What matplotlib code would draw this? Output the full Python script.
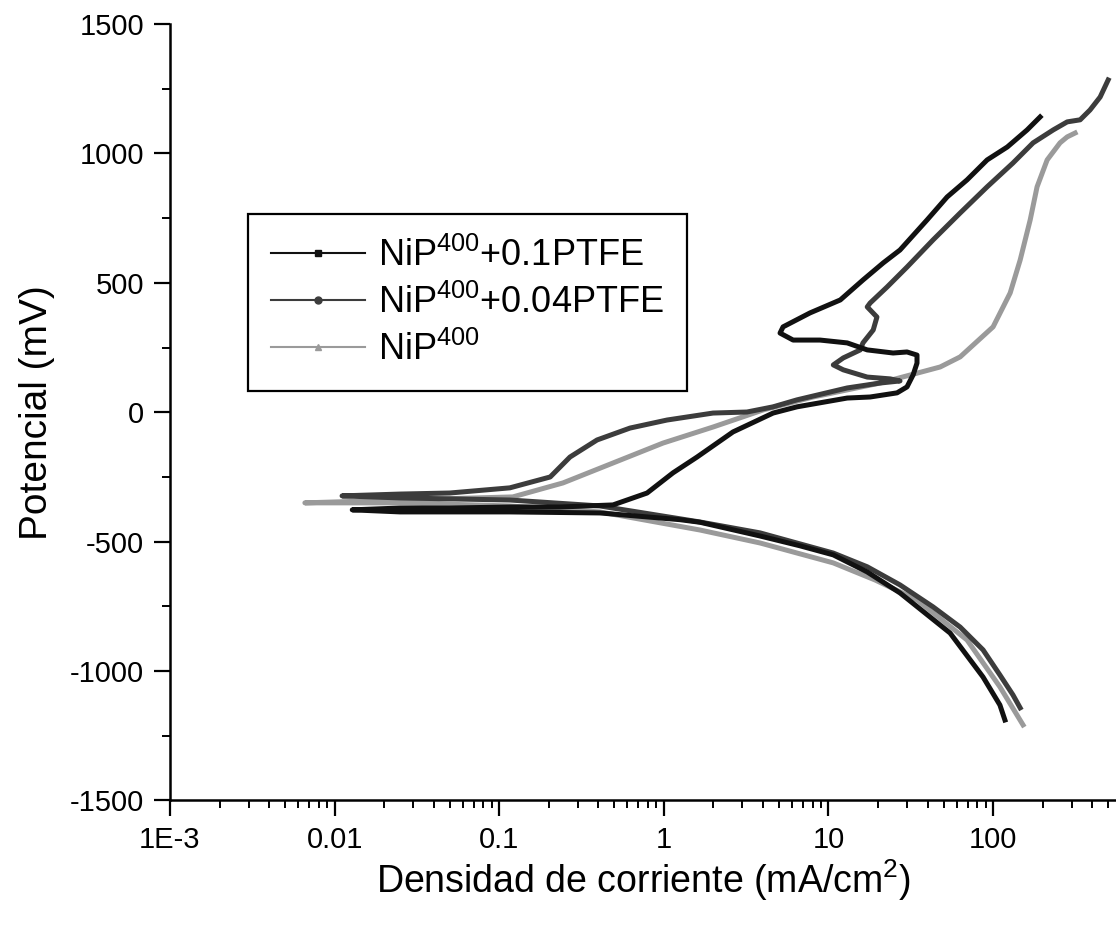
import matplotlib
matplotlib.use('Agg')
import matplotlib.pyplot as plt
from matplotlib.lines import Line2D
from matplotlib.ticker import FixedLocator, FixedFormatter, LogLocator, MultipleLocator, NullFormatter

plt.rcParams['font.family'] = 'Liberation Sans'
plt.rcParams['mathtext.fontset'] = 'custom'
plt.rcParams['mathtext.rm'] = 'Liberation Sans'
plt.rcParams['mathtext.it'] = 'Liberation Sans:italic'
plt.rcParams['mathtext.bf'] = 'Liberation Sans:bold'
plt.rcParams['axes.unicode_minus'] = False

# NiP400 + 0.1PTFE  (current in mA/cm2, potential in mV)
cat_i_01 = [118, 110, 86.9, 54.8, 27.2, 17.2, 10.7, 6.72, 3.84, 1.66, 1.254, 0.409, 0.116, 0.025, 0.0128]
cat_e_01 = [-1189, -1131, -1023, -853, -698, -617, -551, -516, -478, -425, -415, -389, -385, -385, -377]
an_i_01 = [0.0128, 0.025, 0.050, 0.116, 0.234, 0.491, 0.791, 1.137, 1.591, 2.63,
           4.61, 6.44, 13.0, 17.9, 26.1, 30.0, 32.7, 34.5, 34.5, 30.0,
           24.7, 17.2, 13.0, 8.89, 6.10, 5.08, 5.30, 7.73, 11.8, 16.2,
           21.5, 27.2, 39.7, 52.6, 69.5, 92.0, 122, 161, 193]
an_e_01 = [-377, -370, -370, -366, -366, -358, -312, -234, -173, -76,
           -3, 21, 55, 59, 75, 98, 145, 190, 221, 233,
           229, 241, 268, 279, 279, 306, 330, 384, 434, 511,
           577, 627, 743, 832, 898, 975, 1025, 1091, 1141]

# NiP400 + 0.04PTFE
cat_i_004 = [146, 132, 110, 86.9, 63.1, 43.2, 27.2, 17.2, 10.7, 3.84, 1.66, 0.409, 0.116, 0.025, 0.0111]
cat_e_004 = [-1142, -1092, -1015, -918, -830, -752, -667, -597, -544, -466, -424, -362, -339, -331, -323]
an_i_004 = [0.0111, 0.025, 0.050, 0.116, 0.204, 0.269, 0.393, 0.623, 1.045, 1.99,
            3.20, 4.61, 6.44, 13.0, 20.6, 27.2, 23.7, 17.2, 12.3, 10.7,
            12.3, 15.6, 16.2, 18.7, 19.7, 17.2, 17.9, 22.7, 30.0, 43.2,
            63.1, 92.0, 132, 175, 232, 282, 338, 388, 447, 500]
an_e_004 = [-323, -316, -312, -292, -250, -173, -107, -61, -30, -3,
            1, 21, 48, 94, 113, 121, 129, 136, 164, 183,
            210, 241, 268, 318, 368, 407, 422, 484, 561, 666,
            770, 871, 963, 1041, 1091, 1122, 1130, 1168, 1218, 1284]

# NiP400
cat_i_0 = [152, 110, 69.5, 34.5, 19.2, 10.7, 3.84, 1.66, 0.409, 0.116, 0.025, 0.0066]
cat_e_0 = [-1208, -1061, -880, -725, -648, -582, -505, -455, -385, -362, -350, -350]
an_i_0 = [0.0066, 0.025, 0.121, 0.244, 0.491, 0.988, 1.99, 4.01, 8.06, 20.6,
          47.7, 63.1, 100, 127, 146, 168, 185, 213, 255, 282, 315]
an_e_0 = [-350, -339, -327, -273, -196, -119, -57, 9, 59, 113,
          175, 214, 330, 461, 588, 743, 871, 975, 1041, 1064, 1079]

labels = [r'NiP$^{\mathrm{400}}$+0.1PTFE', r'NiP$^{\mathrm{400}}$+0.04PTFE', r'NiP$^{\mathrm{400}}$']
colors = ['#111111', '#3c3c3c', '#9a9a9a']
markers = ['s', 'o', '^']

x_ticks = [1e-3, 1e-2, 1e-1, 1, 10, 100]
x_ticklabels = ['1E-3', '0.01', '0.1', '1', '10', '100']

fig = plt.figure(figsize=(11.16, 9.25), dpi=100)
ax = fig.add_axes([0.1523, 0.1346, 0.8477, 0.8394])

# whole sweep: cathodic branch from the far end to Ecorr, then anodic branch
ax.plot(cat_i_0 + an_i_0, cat_e_0 + an_e_0, color=colors[2], lw=3.6, zorder=2)
ax.plot(cat_i_004 + an_i_004, cat_e_004 + an_e_004, color=colors[1], lw=3.6, zorder=3)
ax.plot(cat_i_01 + an_i_01, cat_e_01 + an_e_01, color=colors[0], lw=3.6, zorder=4)

ax.set_xscale('log')
ax.set_xlim(1e-3, 558)
ax.set_ylim(-1500, 1500)

ax.xaxis.set_major_locator(FixedLocator(x_ticks))
ax.xaxis.set_major_formatter(FixedFormatter(x_ticklabels))
ax.xaxis.set_minor_locator(LogLocator(base=10, subs=range(2, 10), numticks=20))
ax.xaxis.set_minor_formatter(NullFormatter())
ax.yaxis.set_major_locator(MultipleLocator(500))
ax.yaxis.set_minor_locator(MultipleLocator(250))

for s in ['top', 'right']:
    ax.spines[s].set_visible(False)
for s in ['left', 'bottom']:
    ax.spines[s].set_linewidth(1.8)

ax.tick_params(which='major', direction='out', length=11.5, width=1.6, labelsize=21, pad=7)
ax.tick_params(which='minor', direction='out', length=6, width=1.4)

ax.set_xlabel('Densidad de corriente (mA/cm$^{\\mathrm{2}}$)', fontsize=27, labelpad=2)
ax.set_ylabel('Potencial (mV)', fontsize=28, labelpad=11)

handles = [Line2D([], [], color=c, lw=1.5, marker=m, markersize=5) for c, m in zip(colors, markers)]
leg = ax.legend(handles, labels, loc='upper left', bbox_to_anchor=(0.2222, 0.7686),
                bbox_transform=fig.transFigure, borderaxespad=0, fontsize=26,
                handlelength=2.6, handletextpad=0.35, labelspacing=0.3,
                borderpad=0.65, fancybox=False, framealpha=1)
leg.get_frame().set_edgecolor('black')
leg.get_frame().set_linewidth(1.6)

fig.savefig('out.png', dpi=100)
